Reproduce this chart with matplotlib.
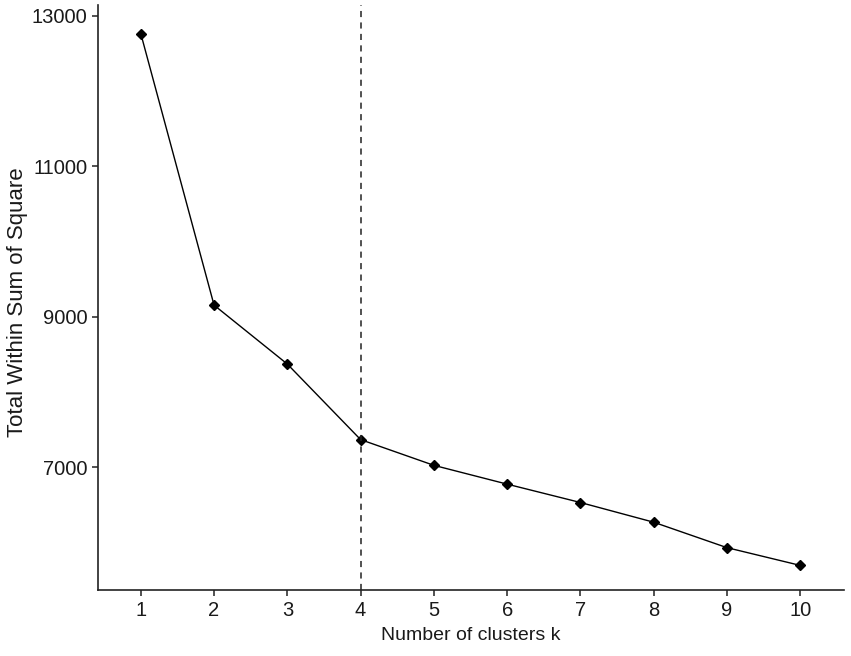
import matplotlib.pyplot as plt

# dados do gráfico do cotovelo (elbow)
k = [1, 2, 3, 4, 5, 6, 7, 8, 9, 10]
wss = [12765, 9156, 8373, 7369, 7027, 6777, 6533, 6271, 5933, 5697]
k_otimo = 4
yticks = [7000, 9000, 11000, 13000]

fonte = ['Liberation Sans', 'DejaVu Sans']

fig = plt.figure(figsize=(8.51, 6.56), dpi=100)
ax = fig.add_axes([0.1155, 0.1006, 0.992 - 0.1155, 0.992 - 0.1006])

ax.plot(k, wss, color='black', linewidth=1.0, marker='D', markersize=5.5,
        markerfacecolor='black', markeredgecolor='black')
ax.axvline(k_otimo, color='#222222', linewidth=1.1, linestyle=(0, (4, 3.5)))

ax.set_xlim(0.42, 10.6)
ax.set_ylim(5370, 13142)
ax.set_xticks(k)
ax.set_yticks(yticks)

for s in ['top', 'right']:
    ax.spines[s].set_visible(False)
for s in ['left', 'bottom']:
    ax.spines[s].set_linewidth(1.2)
    ax.spines[s].set_color('#222222')

ax.tick_params(axis='both', length=4, width=1.1, color='#222222', pad=4,
               labelsize=14.5, labelcolor='#1a1a1a')
for lab in ax.get_xticklabels() + ax.get_yticklabels():
    lab.set_family(fonte)

ax.set_xlabel('Number of clusters k', fontsize=14, family=fonte,
              color='#1a1a1a', labelpad=5)
ax.set_ylabel('Total Within Sum of Square', fontsize=16, family=fonte,
              color='#1a1a1a')
ax.yaxis.set_label_coords(-0.094, 0.493)

fig.savefig('out.png', dpi=100)
